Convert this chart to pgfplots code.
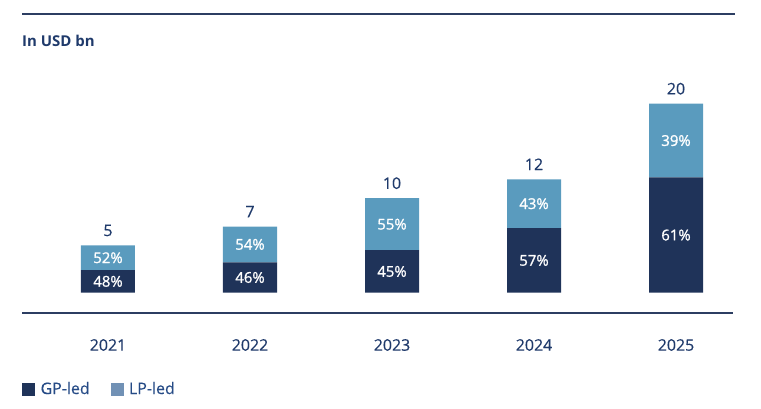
\documentclass[border=0pt]{standalone}
\usepackage{pgfplots}
\pgfplotsset{compat=1.18}
\usepackage{fontspec}
\setmainfont{Open Sans}
\newfontfamily\medf[FakeBold=0.4]{Open Sans}
\newfontfamily\semf[FakeBold=1.2]{Open Sans}
\definecolor{navy}{HTML}{1F3359}
\definecolor{lblue}{HTML}{5A9BBE}
\definecolor{legblue}{HTML}{7191B5}
\definecolor{linec}{HTML}{2C3E62}
\definecolor{txtc}{HTML}{1F3A6B}
\definecolor{legtxt}{HTML}{264B86}
\pgfplotsset{basebox/.style={
  at={(22bp,116.3bp)}, anchor=south west,
  scale only axis, width=713bp, height=207.9bp,
  xmin=-0.6056, xmax=4.4155, ymin=0, ymax=22, clip=false}}
\begin{document}
\begin{tikzpicture}
\useasboundingbox (0bp,0bp) rectangle (761bp,409bp);
\draw[linec, line width=2bp] (22bp,394.7bp) -- (735bp,394.7bp);
\draw[linec, line width=2bp] (22bp,96bp) -- (733bp,96bp);
\node[anchor=base west, inner sep=0pt, text=txtc, font=\bfseries\fontsize{15}{17}\selectfont] at (22bp,362.8bp) {In USD bn};
\begin{axis}[basebox,
  ybar stacked, bar width=54bp,
  axis line style={draw=none}, tick style={draw=none},
  ytick=\empty, xtick={0,1,2,3,4},
  xticklabels={2021,2022,2023,2024,2025},
  xticklabel style={anchor=center, yshift=-52.3bp, text=txtc, font=\medf\fontsize{16}{18}\selectfont},
]
\addplot[fill=navy, draw=none] coordinates {(0,2.4) (1,3.22) (2,4.5) (3,6.84) (4,12.2)};
\addplot[fill=lblue, draw=none] coordinates {(0,2.6) (1,3.78) (2,5.5) (3,5.16) (4,7.8)};
\end{axis}
\begin{axis}[basebox, hide axis,
  legend style={draw=none, fill=none, at={(0,-0.462)}, anchor=west,
    legend columns=2, font=\medf\fontsize{16}{18}\selectfont, text=legtxt,
    inner sep=0pt,
    /tikz/every odd column/.append style={column sep=4bp},
    /tikz/every even column/.append style={column sep=19bp}},
]
\addlegendimage{legend image code/.code={\fill[navy] (0bp,-6bp) rectangle (12bp,6bp);}}
\addlegendentry{GP-led}
\addlegendimage{legend image code/.code={\fill[legblue] (0bp,-6bp) rectangle (12bp,6bp);}}
\addlegendentry{LP-led}
\addplot[only marks, mark=none, nodes near coords, point meta=explicit symbolic,
  nodes near coords style={anchor=center, text=white, font=\semf\fontsize{15}{17}\selectfont}]
  coordinates {(0,1.2) [48\%] (0,3.7) [52\%] (1,1.61) [46\%] (1,5.11) [54\%]
    (2,2.25) [45\%] (2,7.25) [55\%] (3,3.42) [57\%] (3,9.42) [43\%]
    (4,6.1) [61\%] (4,16.1) [39\%]};
\addplot[only marks, mark=none, nodes near coords, point meta=explicit symbolic,
  nodes near coords style={anchor=center, yshift=15bp, text=txtc, font=\medf\fontsize{16}{18}\selectfont}]
  coordinates {(0,5) [5] (1,7) [7] (2,10) [10] (3,12) [12] (4,20) [20]};
\end{axis}
\end{tikzpicture}
\end{document}
